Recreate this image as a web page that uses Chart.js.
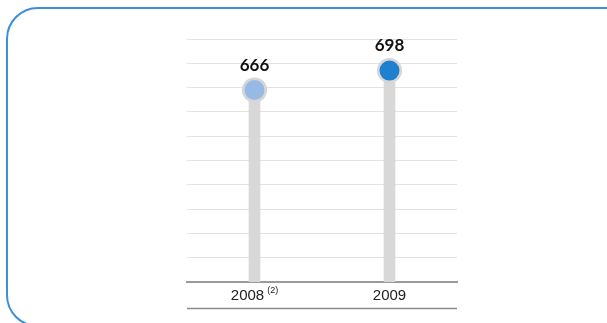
<!DOCTYPE html>
<html>
<head>
<meta charset="utf-8">
<script src="https://cdn.jsdelivr.net/npm/chart.js@4"></script>
<style>
  html, body { margin: 0; padding: 0; background: #fff; overflow: hidden; }
  #wrap { position: relative; width: 607px; height: 323px; overflow: hidden; }
  #frame {
    position: absolute; left: 6px; top: 7px; width: 700px; height: 320px;
    border: 2px solid #3d8fd8; border-radius: 32px; box-sizing: border-box;
  }
  canvas { position: absolute; left: 0; top: 0; }
</style>
</head>
<body>
<div id="wrap">
  <div id="frame"></div>
  <canvas id="chart" width="607" height="323"></canvas>
</div>
<script>
// values
const years = ['2008', '2009'];
const yearNotes = ['(2)', ''];
const values = [666, 698];
const pointColors = ['#97bae4', '#1f80d0'];
const axisMin = 350;
const axisMax = 750;
const axisStep = 40;

// labels above points, x labels with note, bottom rule
const labelsPlugin = {
    id: 'labels',
    afterDraw(chart) {
        const ctx = chart.ctx;
        const area = chart.chartArea;
        const xScale = chart.scales.x;
        const meta = chart.getDatasetMeta(1);

        ctx.save();
        ctx.fillStyle = '#111';
        ctx.font = 'bold 17px Lato';
        ctx.textAlign = 'center';
        ctx.textBaseline = 'middle';
        meta.data.forEach((pt, i) => {
            ctx.fillText(String(values[i]), pt.x, pt.y - 25);
        });

        years.forEach((year, i) => {
            const cx = xScale.getPixelForValue(i);
            ctx.font = '15px "Liberation Sans"';
            const w1 = ctx.measureText(year).width;
            let w2 = 0;
            if (yearNotes[i]) {
                ctx.font = '9px "Liberation Sans"';
                w2 = ctx.measureText(yearNotes[i]).width + 3;
            }
            const left = cx - (w1 + w2) / 2;
            ctx.textAlign = 'left';
            ctx.fillStyle = '#222';
            ctx.font = '15px "Liberation Sans"';
            ctx.fillText(year, left, area.bottom + 13.5);
            if (yearNotes[i]) {
                ctx.font = '9px "Liberation Sans"';
                ctx.fillText(yearNotes[i], left + w1 + 3, area.bottom + 9);
            }
        });

        ctx.strokeStyle = '#8a8a8a';
        ctx.lineWidth = 1.5;
        ctx.beginPath();
        ctx.moveTo(area.left, area.bottom + 26.5);
        ctx.lineTo(area.right, area.bottom + 26.5);
        ctx.stroke();
        ctx.restore();
    }
};

new Chart(document.getElementById('chart'), {
    data: {
        labels: years,
        datasets: [{
            type: 'bar',
            data: values,
            backgroundColor: '#d8d8d8',
            barThickness: 11,
            order: 2
        }, {
            type: 'line',
            data: values,
            showLine: false,
            pointRadius: 11.3,
            pointBorderWidth: 2.6,
            pointBorderColor: '#d6d6d6',
            pointBackgroundColor: pointColors,
            order: 1
        }]
    },
    options: {
        responsive: false,
        animation: false,
        layout: {
            padding: { left: 187, right: 150, top: 39, bottom: 41 }
        },
        plugins: {
            legend: { display: false },
            tooltip: { enabled: false }
        },
        scales: {
            x: {
                offset: true,
                grid: { display: false, drawTicks: false },
                border: { display: true, color: '#9a9a9a', width: 2 },
                ticks: { display: false }
            },
            y: {
                min: axisMin,
                max: axisMax,
                ticks: { display: false, stepSize: axisStep },
                grid: { color: '#e2e2e2', lineWidth: 1, drawTicks: false },
                border: { display: false }
            }
        }
    },
    plugins: [labelsPlugin]
});
</script>
</body>
</html>
